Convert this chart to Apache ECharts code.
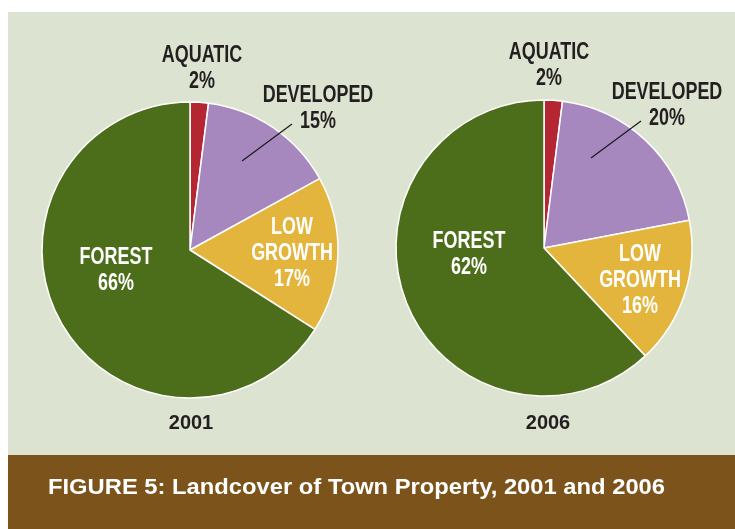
<!DOCTYPE html>
<html>
<head>
<meta charset="utf-8">
<title>Landcover of Town Property</title>
<script src="https://cdn.jsdelivr.net/npm/echarts@6/dist/echarts.min.js"></script>
<style>
  html, body { margin: 0; padding: 0; background: #ffffff; }
  #chart { width: 735px; height: 529px; }
</style>
</head>
<body>
<div id="chart"></div>
<script>
// Landcover categories, in clockwise order from 12 o'clock
const categories = ['AQUATIC', 'DEVELOPED', 'LOW GROWTH', 'FOREST'];
// Share of town property (%) per year
const values2001 = [2, 15, 17, 66];
const values2006 = [2, 20, 16, 62];
const years = ['2001', '2006'];
const figureTitle = 'FIGURE 5: Landcover of Town Property, 2001 and 2006';

// Styling
const sliceColors = ['#b42732', '#a688bf', '#e4b53c', '#4c6e1a'];
const panelColor = '#dce3d0';
const bandColor = '#7c541b';
const darkText = '#231f20';
const sansFont = '"Liberation Sans", Arial, Helvetica, sans-serif';

const pieRadius = 148;
const pieCenters = [[190, 250], [544, 248]];
// Label block centres, offset from each pie's centre (px)
const labelOffsets = [
  [[12, -181], [128, -141], [102, 4], [-74, 21]],
  [[5, -182], [123, -142], [96, 33], [-75, 7]]
];
// Leader line for the DEVELOPED label, offset from the pie centre
const leaderOffsets = [
  [[52, -89], [102, -126]],
  [[47, -90], [97, -127]]
];
const whiteLabel = [false, false, true, true];

function labelText(name, v) {
  return name.replace(' ', '\n') + '\n' + v + '%';
}

function buildSeries(values, idx) {
  return {
    type: 'pie',
    center: pieCenters[idx],
    radius: pieRadius,
    startAngle: 90,
    clockwise: true,
    silent: true,
    animation: false,
    label: { show: false },
    labelLine: { show: false },
    itemStyle: { borderColor: '#ffffff', borderWidth: 1.5 },
    emphasis: { disabled: true },
    data: categories.map((c, i) => ({
      name: c,
      value: values[i],
      itemStyle: { color: sliceColors[i] }
    }))
  };
}

// Condensed bold slice labels and the leader line for DEVELOPED
function buildLabels(values, idx) {
  const c = pieCenters[idx];
  const items = categories.map((name, i) => ({
    type: 'text',
    x: c[0] + labelOffsets[idx][i][0],
    y: c[1] + labelOffsets[idx][i][1],
    scaleX: 0.78,
    z: 10,
    silent: true,
    style: {
      text: labelText(name, values[i]),
      fill: whiteLabel[i] ? '#ffffff' : darkText,
      font: 'bold 23px ' + sansFont,
      lineHeight: 26,
      align: 'center',
      verticalAlign: 'middle'
    }
  }));
  const l = leaderOffsets[idx];
  items.push({
    type: 'line',
    z: 10,
    silent: true,
    shape: {
      x1: c[0] + l[0][0], y1: c[1] + l[0][1],
      x2: c[0] + l[1][0], y2: c[1] + l[1][1]
    },
    style: { stroke: '#1a1a1a', lineWidth: 1.2 }
  });
  return items;
}

const chart = echarts.init(document.getElementById('chart'), null, { renderer: 'canvas' });

chart.setOption({
  backgroundColor: '#ffffff',
  animation: false,
  graphic: [
    { type: 'rect', z: -10, shape: { x: 8, y: 12, width: 727, height: 443 }, style: { fill: panelColor } },
    { type: 'rect', z: -10, shape: { x: 8, y: 455, width: 727, height: 74 }, style: { fill: bandColor } },
    {
      type: 'text', x: 48, y: 488, scaleX: 1.08,
      style: {
        text: figureTitle, fill: '#ffffff', verticalAlign: 'middle',
        font: 'bold 22px ' + sansFont
      }
    },
    {
      type: 'text', x: 191, y: 423,
      style: {
        text: years[0], fill: darkText, align: 'center', verticalAlign: 'middle',
        font: 'bold 20px ' + sansFont
      }
    },
    {
      type: 'text', x: 548, y: 423,
      style: {
        text: years[1], fill: darkText, align: 'center', verticalAlign: 'middle',
        font: 'bold 20px ' + sansFont
      }
    }
  ].concat(buildLabels(values2001, 0), buildLabels(values2006, 1)),
  series: [buildSeries(values2001, 0), buildSeries(values2006, 1)]
});
</script>
</body>
</html>
